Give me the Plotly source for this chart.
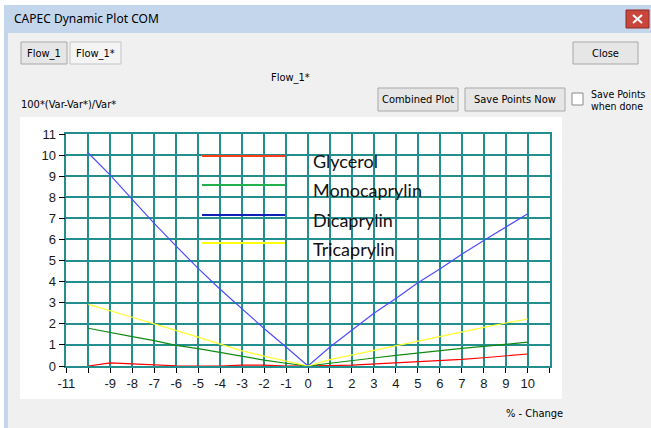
import plotly.graph_objects as go

# Sensitivity of each component to a % change of the input variable
pct_change = list(range(-10, 11))
glycerol = [0, 0.15, 0.1, 0.05, 0.01, 0, 0, 0.04, 0.04, 0, 0,
            0.02, 0.04, 0.09, 0.16, 0.21, 0.26, 0.31, 0.39, 0.47, 0.57]
monocaprylin = [1.79, 1.58, 1.39, 1.2, 0.98, 0.82, 0.63, 0.47, 0.28, 0.13, 0,
                0.13, 0.27, 0.38, 0.5, 0.62, 0.73, 0.84, 0.93, 1.02, 1.13]
dicaprylin = [10.1, 9.05, 7.9, 6.76, 5.68, 4.63, 3.64, 2.69, 1.78, 0.9, 0,
              0.9, 1.72, 2.5, 3.2, 3.95, 4.6, 5.3, 5.95, 6.6, 7.22]
tricaprylin = [2.92, 2.63, 2.31, 2.0, 1.7, 1.37, 1.04, 0.72, 0.47, 0.25, 0,
               0.3, 0.52, 0.73, 0.96, 1.2, 1.42, 1.63, 1.83, 2.04, 2.23]

series_names = ["Glycerol", "Monocaprylin", "Dicaprylin", "Tricaprylin"]
series_values = [glycerol, monocaprylin, dicaprylin, tricaprylin]
line_colors = ["#ff0000", "#118a11", "#4c4cff", "#ffff30"]
key_colors = ["#ff3a1a", "#22b04c", "#1020b8", "#ffff10"]

x_ticks = list(range(-11, 12))
x_tick_text = ["" if v in (-10, 11) else str(v) for v in x_ticks]
y_ticks = list(range(0, 12))

W, H = 651, 428


def X(p):
    return p / W


def Y(p):
    return 1 - p / H


shapes = []
annotations = []
UI_FONT = "DejaVu Sans Condensed, Liberation Sans Narrow, Liberation Sans"


def rect(x0, y0, x1, y1, fill, line=None, lw=1, layer="below"):
    shapes.append(dict(type="rect", xref="paper", yref="paper",
                       x0=X(x0), x1=X(x1), y0=Y(y1), y1=Y(y0),
                       fillcolor=fill, layer=layer,
                       line=dict(color=line if line else fill,
                                 width=lw if line else 0)))


def seg(x0, y0, x1, y1, color, lw=1, layer="above"):
    shapes.append(dict(type="line", xref="paper", yref="paper",
                       x0=X(x0), x1=X(x1), y0=Y(y0), y1=Y(y1),
                       layer=layer, line=dict(color=color, width=lw)))


def text(x, y, s, size=11, anchor="left", color="#000000", family=UI_FONT):
    annotations.append(dict(xref="paper", yref="paper", x=X(x), y=Y(y),
                            text=s, showarrow=False, xanchor=anchor,
                            yanchor="middle", borderpad=0,
                            font=dict(size=size, color=color, family=family)))


def button(x0, y0, x1, y1, label, fill="#e6e6e6", border="#a8a8a8"):
    rect(x0, y0, x1, y1, fill, border, 1)
    text((x0 + x1) / 2, (y0 + y1) / 2, label, anchor="center")


# window frame, title bar and dialog body
rect(4, 5, 651, 428, "#c3d6ec")
rect(8, 33, 651, 428, "#f0f0f0")
text(13, 19, "CAPEC Dynamic Plot COM", size=12,
     family="Noto Sans, DejaVu Sans, sans-serif")
rect(626, 10, 649, 28, "#c9463d", "#8e2a24", 1)
seg(633, 15, 642, 23, "#ffffff", 2)
seg(633, 23, 642, 15, "#ffffff", 2)

# dialog controls
button(21, 42, 67, 64, "Flow_1")
button(70, 42, 121, 64, "Flow_1*", fill="#f4f4f4", border="#c4c4c4")
button(573, 42, 638, 64, "Close")
text(290, 78, "Flow_1*", anchor="center")
text(20, 104, "100*(Var-Var*)/Var*")
button(378, 88, 458, 111, "Combined Plot")
button(465, 88, 565, 111, "Save Points Now")
rect(572, 93, 583, 105, "#ffffff", "#8a8a8a", 1)
text(590, 94, "Save Points", size=10.5)
text(590, 106, "when done", size=10.5)
text(534, 413, "% - Change", anchor="center")

# white chart panel
rect(20, 117, 562, 399, "#ffffff")

# in-chart key
key_y = [156, 185, 215, 243]
text_y = [161, 190, 220, 249]
for name, col, ly, ty in zip(series_names, key_colors, key_y, text_y):
    seg(202, ly, 285, ly, col, 2)
    text(312, ty, name, size=18, color="#111111",
         family="Lato, Open Sans, sans-serif")

fig = go.Figure()
for name, vals, col in zip(series_names, series_values, line_colors):
    fig.add_trace(go.Scatter(x=pct_change, y=vals, mode="lines", name=name,
                             line=dict(color=col, width=1.2)))

grid = "#228e8e"
tick_font = dict(size=13, color="#1a1a1a", family="Liberation Sans, Arial")
fig.update_layout(
    width=W, height=H,
    margin=dict(l=0, r=0, t=0, b=0, autoexpand=False),
    paper_bgcolor="#ffffff",
    plot_bgcolor="#ffffff",
    showlegend=False,
    shapes=shapes,
    annotations=annotations,
    xaxis=dict(domain=[X(66.3), X(549.7)], range=[-11, 11],
               tickvals=x_ticks, ticktext=x_tick_text,
               ticks="outside", ticklen=5, tickcolor="#000000",
               showgrid=True, gridcolor=grid, gridwidth=1.5,
               zeroline=False, showline=True, linecolor=grid,
               linewidth=1.5, mirror=True, tickfont=tick_font),
    yaxis=dict(domain=[Y(366), Y(134)], range=[0, 11],
               tickvals=y_ticks, ticks="outside", ticklen=6,
               tickcolor="#000000",
               showgrid=True, gridcolor=grid, gridwidth=1.5,
               zeroline=False, showline=True, linecolor=grid,
               linewidth=1.5, mirror=True, tickfont=tick_font),
)

fig.write_html("out.html")
